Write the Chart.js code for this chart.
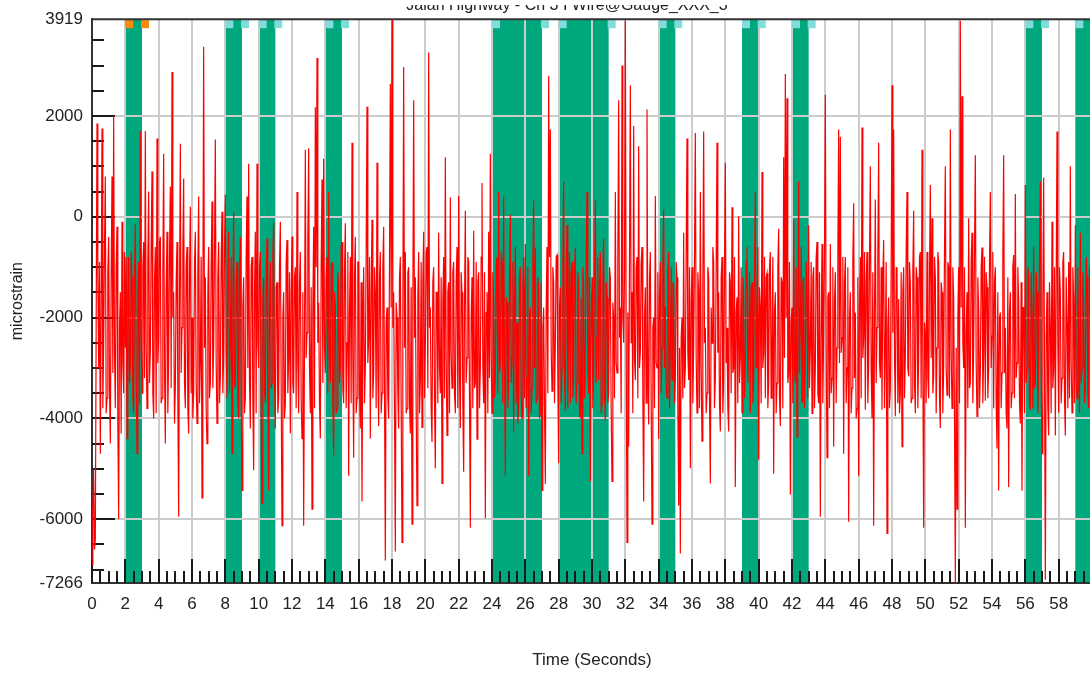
<!DOCTYPE html>
<html>
<head>
<meta charset="utf-8">
<title>Strain record</title>
<script src="https://cdn.jsdelivr.net/npm/chart.js@4.4.1/dist/chart.umd.min.js"></script>
<style>
  html, body { margin: 0; padding: 0; background: #fff; overflow: hidden; width: 1090px; height: 674px; }
  #wrap { position: absolute; left: 0; top: 0; width: 1094px; height: 674px; }
</style>
</head>
<body>
<div id="wrap"><canvas id="c" width="1094" height="674"></canvas></div>
<script>
// ---- record ----
const chartTitle = 'Jalan Highway - Ch 3 I Wire@Gauge_XXX_3';
const sampleInterval = 0.05; // seconds between stored readings

// microstrain readings, one per sampleInterval, starting at t = 0 s (one row per second)
const strain = [
  -6900,-5800,-5000,-6600,-6400,-2200,1850,-1200,-3000,-900,-4700,-1800,1750,-3800,-2500,-600,800,-3900,-3600,-1100,
  -400,-3400,-4500,-1200,800,-3100,2000,-2700,-3800,-1000,-200,-4100,-6000,-2200,-1500,-4300,-100,-2900,-3500,-700,
  -2600,-800,-4400,-1500,-800,-3300,-3000,-700,-1200,-3600,-3900,-1100,-150,-3000,-4700,-1400,-900,-3700,1700,-2400,
  -3500,-1000,-500,-3200,1700,-2600,-3800,-900,500,-3300,-2700,-600,900,-3500,-4000,-1300,-600,-3900,1550,-2900,
  -2400,-500,-400,-3700,-3600,-1100,1250,-3000,-4500,-1500,-300,-3900,-2800,-800,600,-3400,2870,-2000,-1500,-4100,
  -3400,-1300,-500,-3600,-5950,-1700,1450,-3100,-2200,-700,760,-3300,-3800,-1000,-600,-3800,-4300,-1200,200,-3500,
  -2000,-4000,-3500,-900,-300,-3300,-4100,-1100,400,-3700,-2900,-800,-5580,-1900,3370,-2600,-1200,-3800,-4500,-1500,
  -600,-3600,-3300,-1000,300,-3400,-2600,-700,1530,-2900,-4100,-1200,-500,-3700,-3200,-900,100,-3500,-2800,-600,
  440,-2700,-3600,-1100,-300,-3500,-2500,-800,-4700,-1600,100,-3300,-3400,-1300,-900,-3700,-4000,-1200,-400,-3400,
  -5430,-1800,-1200,-3900,-3600,-800,400,-3000,1050,-3300,-4200,-1000,-800,-3600,-5030,-1500,-300,-3900,1050,-2500,
  -3000,-1000,-700,-3800,-5680,-1600,-1200,-3500,-3700,-1100,-430,-3600,-5430,-1800,-900,-3400,-3300,-800,-100,-3200,
  -4200,-1400,-1300,-3900,-3600,-1000,-100,-3300,-6130,-2000,-1500,-4000,-3700,-900,-460,-3500,-2800,-1100,-4300,-1600,
  -390,-3300,-3500,-1200,-1000,-3800,490,-2900,-3900,-1300,-700,-3600,-4400,-1500,-6130,-2400,1330,-2800,-2300,-500,
  1360,-3000,-3900,-1400,-5800,-1900,-200,-3800,2170,-1000,3150,-2500,-1700,-3700,-4400,-1000,740,-3300,1150,-2600,
  -3100,-1200,-800,-3500,490,-2800,-3300,-1000,-900,-3600,-4740,-1500,-1800,-3900,-3800,-1100,-1380,-3300,-3000,-600,
  -500,-3400,-3700,-1100,-130,-3800,-2500,-700,-5140,-1900,-800,-3700,1470,-2800,-4780,-1200,-400,-3900,-3600,-900,
  -900,-3500,-4200,-1300,-5650,-2300,-1000,-3700,-3000,-700,2180,-2900,-2400,-800,-4400,-1500,-60,-3600,-3100,-1000,
  -1500,-3800,1070,-3000,-4150,-1200,-700,-3900,-3500,-1000,-200,-3400,-6820,-2100,-1800,-3600,-4000,-900,2640,-1800,
  3919,-2200,-1500,-3900,-6640,-1700,-2000,-3500,-4200,-1200,-800,-3700,-6460,-2000,2970,-2600,-700,-3900,-3800,-1100,
  -1000,-3700,-4300,-1400,-6100,-1800,2310,-2400,-1200,-3800,-5730,-1600,-700,-3900,-3300,-900,-4180,-1300,-300,-3600,
  -2600,-700,-600,-3400,3260,-2200,-1800,-3800,-4470,-1300,-1000,-3600,-4990,-1500,-1500,-3700,-320,-3000,-3500,-1200,
  -5290,-1700,-800,-3600,1180,-2800,-4340,-1500,-1300,-3900,380,-2700,-3400,-1100,-900,-3500,-3900,-1300,-600,-3800,
  410,-3100,-4190,-1100,-1500,-3700,-5060,-1800,120,-3300,-2800,-800,-900,-3600,-6170,-2000,-1200,-3800,-280,-3400,
  -3300,-900,-4410,-1300,-1100,-3800,-3000,-800,670,-3000,-3700,-1100,-5980,-1900,-1500,-3900,-300,-3200,1250,-2700,
  -3900,-1100,-1600,-3600,-3200,-1000,-800,-3500,490,-3100,-2900,-700,-900,-3700,410,-2900,-5140,-1600,-1700,-3800,
  -3300,-1300,40,-3300,-2800,-900,-4260,-1600,-600,-3700,-2100,-4100,-3600,-1200,-1000,-3500,-4000,-1400,-800,-3600,
  -540,-3800,-3200,-1000,-5140,-2000,-1800,-3900,-3400,-1100,340,-3000,-610,-3700,-3600,-1200,-1500,-4000,-3900,-1300,
  -5430,-2200,-1800,-3800,-5300,-1900,-600,-3500,2790,-800,1730,-2600,-3460,-1000,-1300,-3700,-2500,-800,-760,-3300,
  -4890,-1800,-1400,-3700,-3000,-1000,700,-3200,-3860,-1300,-170,-3800,-2400,-700,-3700,-1100,-900,-3600,-3200,-1000,
  -610,-3700,-3300,-1100,-1400,-3900,-4000,-1600,-4700,-1000,-1300,-3600,-2800,-900,490,-3000,-3500,-1200,-5250,-2000,
  -1200,-3800,-3100,-1000,340,-3300,-2400,-800,-3240,-1400,-700,-3900,-3700,-1200,-430,-3500,-4050,-1300,-1600,-3700,
  -3500,-1000,-1200,-3800,-5250,-1700,-2000,-3600,490,-2900,-3100,-900,2310,-2400,-1800,-3900,3000,-2000,-2500,-1100,
  3900,-2300,-6460,-1900,-4560,-900,2610,-2500,-1500,-3900,1800,-2800,-3240,-1000,-800,-3600,1400,-3000,-2700,-900,
  -600,-3500,-5650,-2000,-1400,-3700,2130,-2800,-4120,-1200,-700,-3600,-6100,-2200,-2000,-3800,410,-2900,-3000,-1100,
  -4410,-1600,-900,-3500,-2600,-1000,150,-3000,-1780,-3300,-3600,-1100,-700,-3800,-2600,-1000,-3240,-1300,-1400,-3700,
  -3240,-900,-1200,-3800,-5730,-2600,-6680,-2400,-2000,-3600,-320,-3400,-3000,-800,1550,-2700,-3240,-1000,-4990,-1700,
  -1000,-3700,-2600,-800,1660,-2800,-3890,-1100,-1500,-3800,490,-3000,-4450,-1300,1690,-2500,-2200,-3900,-3500,-1000,
  -1190,-3600,-5290,-1800,-2510,-600,-900,-3800,-3200,-1000,1470,-2700,-1500,-3700,-4260,-1200,-800,-3900,-3240,-1000,
  1070,-2900,-2200,-3800,-4260,-1100,-1300,-3500,190,-3100,-3000,-800,-5360,-1900,-1600,-3700,10,-3300,-2800,-1000,
  -3890,-1200,-1500,-3600,-3000,-900,-600,-3300,-2500,-1100,-3890,-1400,-1300,-3700,-3200,-1000,490,-3000,-2300,-600,
  -4820,-1400,-1800,-3700,890,-3000,-2700,-800,-3600,-1200,-1120,-3800,-3300,-1000,-700,-3600,-2500,-800,-5100,-1900,
  -1500,-3900,-3300,-1000,-240,-3600,-4150,-1200,-1300,-3800,1180,-2800,2830,-2000,2350,-3300,-3100,-900,-5510,-2100,
  -1800,-3700,-60,-3000,-3300,-1000,-4370,-1600,700,-3100,-2200,-600,-3680,-1300,-1200,-3800,-2800,-900,-1600,-3600,
  -170,-3400,-2600,-900,-3900,-1200,-1000,-3800,-3000,-800,-500,-3500,-3700,-1100,-5950,-2400,-540,-3700,-2300,-700,
  2420,-2600,-4780,-1600,-1500,-3800,-540,-3500,-3200,-1000,-4560,-1700,-1100,-3700,-2600,-800,1730,-2900,1580,-2700,
  -2400,-800,-4700,-1300,-800,-3700,-3000,-1000,-6050,-2000,-1500,-3900,-3400,-900,270,-3200,-1900,-4000,-3800,-1200,
  -5140,-1800,-800,-3600,1770,-2800,-2400,-700,-3830,-1300,-700,-3700,-2900,-900,1000,-3000,-4000,-1100,-6130,-2000,
  340,-3300,-2200,-800,1470,-2900,-3200,-1000,-3830,-1200,-460,-3800,-2600,-900,-6280,-2200,-1600,-3800,-3400,-1000,
  2610,-2300,1730,-2800,-3960,-1000,-1200,-3700,-1630,-3900,-3500,-1100,-4560,-1500,-1000,-3600,-2800,-700,490,-3000,
  -3170,-900,-1300,-3700,-3600,-1100,120,-3300,-3900,-1000,-1200,-3800,-2800,-800,-700,-3600,1330,-2900,-6170,-2100,
  -2300,-3700,-700,-3200,-3600,-1200,630,-2800,-30,-3500,-3170,-800,-1190,-3900,-2600,-700,-900,-3600,-4190,-1300,
  -1500,-3900,-3000,-700,1000,-3000,-3540,-900,-1000,-3600,1730,-2700,-3800,-1000,-1600,-4000,-7266,-2600,-5800,-2000,
  -1000,-3700,3890,-1800,2390,-2500,-3000,-1000,-6170,-2300,-1500,-3800,-30,-3400,-3300,-900,-320,-3700,-2600,-700,
  1220,-2900,-3960,-1200,-1800,-3800,-3100,-1000,-610,-3700,-2700,-800,-3650,-1100,-1400,-3600,-3000,-900,490,-3000,
  -2370,-700,-3800,-1300,-1000,-3700,-4600,-1500,-5430,-2000,-1900,-3800,-3100,-800,1220,-3100,-2200,-3900,-4200,-1200,
  -5360,-1900,-1500,-3800,-3500,-1000,-760,-3600,450,-3200,-2900,-1000,-1700,-3700,-4100,-1300,-5430,-1800,-1800,-3900,
  630,-3300,-3000,-1000,-1200,-3700,-3830,-1100,-2000,-3800,-600,-3400,-3300,-1100,-1500,-3900,-2700,-800,700,-3000,
  -4700,-1700,780,-3000,-7200,-2400,-1500,-3800,-4340,-1300,-2200,-3900,-100,-3400,-3000,-1000,-4340,-1400,1690,-2500,
  -3890,-1000,-1500,-3700,-3200,-900,-700,-3600,-4340,-1200,-2100,-3800,-900,-3600,1000,-2900,-3890,-1000,-1600,-3700,
  -170,-3200,-3610,-1000,-2400,-3900,-320,-3300,-3000,-1100,-1700,-3700,-3390,-800,-1190,-3500,-3800,-1000,-1500,-3600
];

// axis labels
const yTickValues = [3919, 2000, 0, -2000, -4000, -6000, -7266];
const xTickValues = [0, 2, 4, 6, 8, 10, 12, 14, 16, 18, 20, 22, 24, 26, 28,
                     30, 32, 34, 36, 38, 40, 42, 44, 46, 48, 50, 52, 54, 56, 58];
const xAxisMax = 60;

// event windows (seconds) and the kind of flag shown at the top of each
const eventStart = [2, 8, 10, 14, 24, 28, 34, 39, 42, 56, 59];
const eventEnd   = [3, 9, 11, 15, 27, 31, 35, 40, 43, 57, 60];
const eventKind  = ['alert', 'event', 'event', 'event', 'event', 'event',
                    'event', 'event', 'event', 'event', 'event'];

// ---- styling ----
const FONT = '"Liberation Sans", Arial, sans-serif';
const TEXT = '#222222';
const GRID = '#cccccc';
const FRAME = '#333333';
const BAND = '#00a87e';
const FLAG = { alert: '#f98a0a', event: '#80ddda' };
const Y_MINOR = 500, Y_MAJOR = 2000;
const X_MINOR = 0.5, X_MAJOR = 2;

const points = strain.map((v, i) => ({ x: +(i * sampleInterval).toFixed(3), y: v }));

const decorations = {
  id: 'decorations',
  beforeDraw(chart) {
    const { ctx, chartArea: a, scales: { x } } = chart;
    ctx.save();
    ctx.fillStyle = BAND;
    eventStart.forEach((s, i) => {
      const x0 = x.getPixelForValue(s), x1 = x.getPixelForValue(eventEnd[i]);
      ctx.fillRect(x0, a.top, x1 - x0, a.bottom - a.top);
    });
    ctx.restore();
  },
  beforeDatasetsDraw(chart) {
    const { ctx, chartArea: a, scales: { x, y } } = chart;
    ctx.save();
    // flags marking the start and end of each window
    eventStart.forEach((s, i) => {
      ctx.fillStyle = FLAG[eventKind[i]];
      const x0 = x.getPixelForValue(s), x1 = x.getPixelForValue(eventEnd[i]);
      ctx.fillRect(x0, a.top + 1, 8, 8);
      ctx.fillRect(x1 - 1, a.top + 1, 8, 8);
    });
    // inward tick marks
    ctx.strokeStyle = '#1a1a1a';
    ctx.lineWidth = 2;
    ctx.beginPath();
    for (let v = Math.ceil(y.min / Y_MINOR) * Y_MINOR; v <= y.max; v += Y_MINOR) {
      const py = Math.round(y.getPixelForValue(v));
      const len = v % Y_MAJOR === 0 ? 23 : 12;
      ctx.moveTo(a.left, py); ctx.lineTo(a.left + len, py);
    }
    for (let v = 0; v <= xAxisMax + 1e-9; v += X_MINOR) {
      const px = Math.round(x.getPixelForValue(v));
      const len = Math.abs(v % X_MAJOR) < 1e-9 ? 24 : 12;
      ctx.moveTo(px, a.bottom); ctx.lineTo(px, a.bottom - len);
    }
    ctx.stroke();
    // top frame
    ctx.strokeStyle = FRAME;
    ctx.beginPath();
    ctx.moveTo(a.left, a.top); ctx.lineTo(a.right, a.top);
    ctx.stroke();
    ctx.restore();
  },
  afterDraw(chart) {
    const { ctx, width } = chart;
    ctx.save();
    // the title sits mostly above the visible page; only its lower edge shows
    ctx.beginPath();
    ctx.rect(0, 5, width, 12);
    ctx.clip();
    ctx.fillStyle = TEXT;
    ctx.font = '16px ' + FONT;
    ctx.textAlign = 'center';
    ctx.textBaseline = 'alphabetic';
    ctx.fillText(chartTitle, 567, 10);
    ctx.restore();
  }
};

new Chart(document.getElementById('c'), {
  type: 'line',
  data: {
    datasets: [{
      data: points,
      borderColor: '#ff0000',
      borderWidth: 1.2,
      pointRadius: 0,
      tension: 0,
      fill: false
    }]
  },
  options: {
    responsive: false,
    animation: false,
    events: [],
    layout: { padding: { left: 0, top: 17, right: 2, bottom: 0 } },
    plugins: { legend: { display: false }, tooltip: { enabled: false }, title: { display: false } },
    scales: {
      x: {
        type: 'linear',
        min: 0,
        max: xAxisMax,
        afterBuildTicks: s => { s.ticks = xTickValues.map(v => ({ value: v })); },
        afterFit: s => { s.height = 91; },
        grid: {
          drawTicks: false,
          lineWidth: 2,
          color: c => (c.tick && c.tick.value === 0) ? 'rgba(0,0,0,0)' : GRID
        },
        border: { color: FRAME, width: 2 },
        ticks: {
          autoSkip: false,
          maxRotation: 0,
          padding: 11,
          color: TEXT,
          font: { family: FONT, size: 17 },
          callback: v => String(v)
        },
        title: {
          display: true,
          text: 'Time (Seconds)',
          color: TEXT,
          font: { family: FONT, size: 17 },
          padding: { top: 0, bottom: 3 }
        }
      },
      y: {
        type: 'linear',
        min: -7266,
        max: 3919,
        afterBuildTicks: s => { s.ticks = yTickValues.map(v => ({ value: v })); },
        afterFit: s => { s.width = 92; },
        grid: {
          drawTicks: false,
          lineWidth: 2,
          color: c => (c.tick && (c.tick.value === 3919 || c.tick.value === -7266)) ? 'rgba(0,0,0,0)' : GRID
        },
        border: { color: FRAME, width: 2 },
        ticks: {
          autoSkip: false,
          padding: 9,
          color: TEXT,
          font: { family: FONT, size: 17 },
          callback: v => String(v)
        },
        title: {
          display: true,
          text: 'microstrain',
          color: TEXT,
          font: { family: FONT, size: 16 },
          padding: { top: 8, bottom: 0 }
        }
      }
    }
  },
  plugins: [decorations]
});
</script>
</body>
</html>
